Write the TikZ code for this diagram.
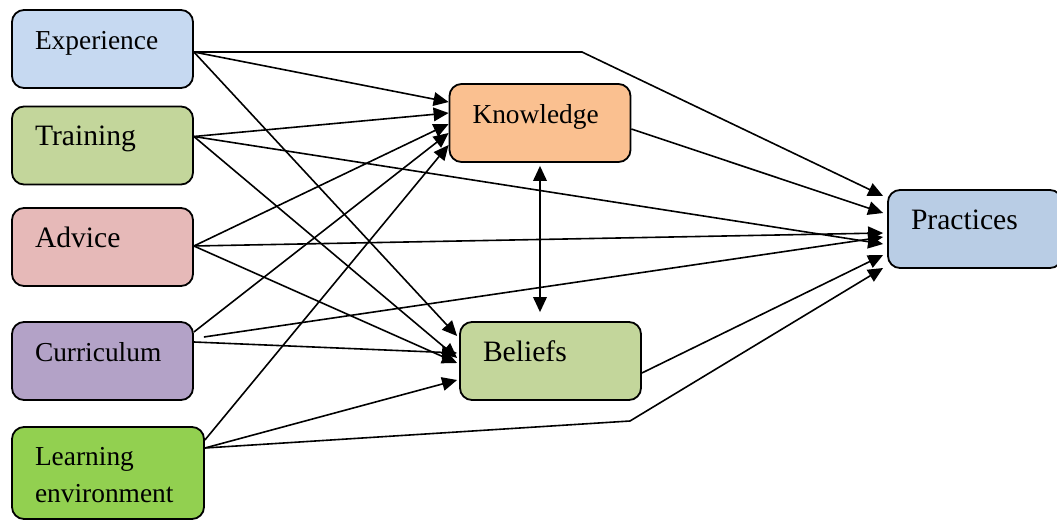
\documentclass[tikz,border=0pt]{standalone}
\usepackage{fontspec}
\setmainfont{Liberation Serif}
\usepackage{tikz}
\usetikzlibrary{arrows.meta,positioning,calc}
\definecolor{expblue}{RGB}{198,217,241}
\definecolor{traingreen}{RGB}{195,214,155}
\definecolor{advpink}{RGB}{230,185,184}
\definecolor{currpurple}{RGB}{179,162,199}
\definecolor{learngreen}{RGB}{146,208,80}
\definecolor{knoworange}{RGB}{250,192,144}
\definecolor{pracblue}{RGB}{185,205,229}

\begin{document}
\begin{tikzpicture}[->, >={Triangle[length=7.5pt,width=6.8pt]}, x=0.5pt, y=-0.5pt, line width=0.8pt]
\tikzstyle{box}=[draw=black,line width=0.9pt,rounded corners=6pt,minimum width=90.5pt,minimum height=39pt,text width=67.5pt,inner xsep=11.5pt,inner ysep=0pt,align=left,text height=19.5pt,text depth=19.5pt]
\tikzstyle{small}=[font=\fontsize{13.7}{18.5}\selectfont]
\tikzstyle{big}=[font=\fontsize{14.8}{17}\selectfont]
\useasboundingbox (0,0) rectangle (1057,520);

% sources
\node[box,small,fill=expblue]    (exp)   at (102.5,49)    {Experience};
\node[box,big,fill=traingreen]   (train) at (102.5,145.5) {Training};
\node[box,big,fill=advpink]      (adv)   at (102.5,247)   {Advice};
\node[box,small,fill=currpurple] (curr)  at (102.5,361)   {Curriculum};
\node[box,small,fill=learngreen,minimum width=96pt,text width=73pt,text height=19pt,text depth=27pt]
                                 (learn) at (108,473)     {Learning\\environment};

% middle and target
\node[box,small,fill=knoworange] (know)  at (540,123)     {Knowledge};
\node[box,big,fill=traingreen]   (bel)   at (550.5,361)   {Beliefs};
\node[box,big,fill=pracblue,minimum width=87pt,text width=64pt]
                                 (prac)  at (975,229)     {Practices};

\coordinate (bendE) at (582,52);
\coordinate (bendL) at (630,421);
\coordinate (currP) at ($(curr.east)+(10,-24)$);

\path
($(exp.east)+(0,3)$)     edge ($(know.west)+(0,-21)$)
($(exp.east)+(0,3)$)     edge ($(bel.west)+(-2,-25)$)
($(train.east)+(0,-9)$)  edge ($(know.west)+(0,-10)$)
($(train.east)+(0,-9)$)  edge ($(prac.west)+(-4,15)$)
($(train.east)+(0,-9)$)  edge ($(bel.west)+(-2,-3)$)
($(adv.east)+(0,-1)$)    edge ($(know.west)+(0,1)$)
($(adv.east)+(0,-1)$)    edge ($(prac.west)+(-4,4)$)
($(adv.east)+(0,-1)$)    edge ($(bel.west)+(-2,2)$)
($(curr.east)+(0,-29)$)  edge ($(know.west)+(0,10)$)
($(curr.east)+(0,-19)$)  edge ($(bel.west)+(-2,-8)$)
(currP)                  edge ($(prac.west)+(-4,8)$)
($(learn.east)+(0,-33)$) edge ($(know.west)+(0,22)$)
($(learn.east)+(0,-25)$) edge ($(bel.west)+(-2,19)$)
($(know.east)+(0,6)$)    edge ($(prac.west)+(-4,-16)$)
($(bel.east)+(0,12)$)    edge ($(prac.west)+(-4,26)$);

\draw ($(exp.east)+(0,3)$) -- (bendE) -- ($(prac.west)+(-4,-33)$);
\draw ($(learn.east)+(0,-25)$) -- (bendL) -- ($(prac.west)+(-4,39)$);
\draw[<->] ($(know.south)+(0,3)$) -- ($(know.south |- bel.north)+(0,-9)$);
\end{tikzpicture}
\end{document}
